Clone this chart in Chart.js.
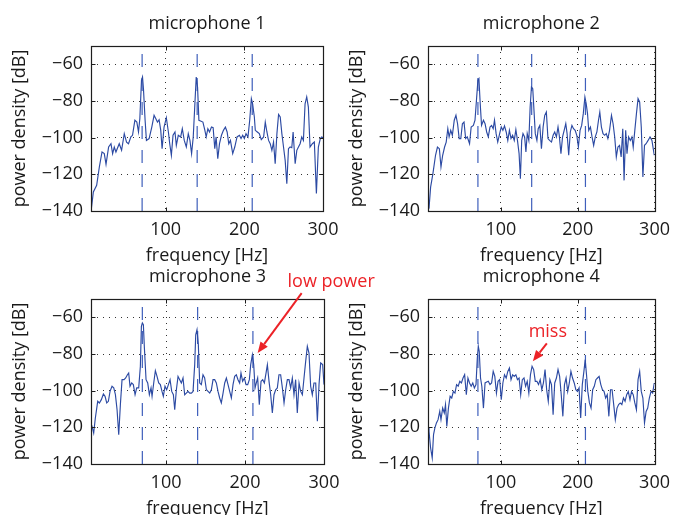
<!DOCTYPE html>
<html><head><meta charset="utf-8">
<script src="https://cdn.jsdelivr.net/npm/chart.js@4.4.1/dist/chart.umd.min.js"></script>
<style>
html,body{margin:0;padding:0;background:#fff;overflow:hidden;width:678px;height:515px;}
canvas{position:absolute;left:0;top:0;}
</style></head><body>
<canvas id="c1" width="678" height="560"></canvas>
<canvas id="c2" width="678" height="560"></canvas>
<canvas id="c3" width="678" height="560"></canvas>
<canvas id="c4" width="678" height="560"></canvas>
<script>
// ---- data ----
const titles = ['microphone 1','microphone 2','microphone 3','microphone 4'];
const xTicks = [100, 200, 300];
const yTicks = [-140, -120, -100, -80, -60];
const xRange = [5, 300];
const yRange = [-140, -50];

const f1 = [5.1,8.0,12.2,15.6,19.0,21.9,24.1,27.4,30.4,32.5,34.6,36.7,40.9,43.9,47.3,50.2,52.7,55.7,57.8,60.8,63.3,65.4,67.1,69.2,70.5,71.7,73.8,75.5,78.9,82.3,85.2,87.3,89.5,91.6,93.7,95.4,97.9,100.8,103.4,105.1,107.2,109.3,111.8,113.5,116.0,119.0,121.1,123.6,126.2,128.7,130.8,132.9,135.0,137.1,138.8,140.5,142.2,144.3,147.3,149.8,151.5,153.6,155.7,158.2,160.3,162.4,164.1,166.2,168.4,170.9,173.4,175.9,178.1,180.2,182.3,185.2,187.8,190.7,193.7,195.8,197.9,200.0,202.1,204.6,206.8,208.9,210.5,212.7,213.9,216.5,219.0,221.5,224.5,226.6,228.7,230.8,232.9,235.0,237.1,239.2,241.4,243.5,245.6,247.7,249.8,251.9,254.0,256.1,258.2,260.3,262.0,264.6,266.7,268.8,270.9,273.0,275.1,277.2,279.3,281.4,283.5,286.5,289.0,291.6,294.1,296.6,298.3,300.0];
const p1 = [-140,-129.6,-126,-116,-107.8,-108.7,-114.5,-105.1,-103.3,-108.7,-105.1,-107.8,-103.3,-106.9,-97.8,-102.4,-103.3,-99.6,-98.7,-90.5,-91.5,-96.9,-89.6,-68.7,-66.9,-73.3,-90.5,-101.5,-100.5,-94.2,-87.8,-89.6,-91.5,-90.2,-96,-106,-94.2,-89.1,-96.9,-103.3,-109.6,-98.7,-96.9,-104.2,-98.7,-99.6,-95.1,-101.5,-105.1,-97.8,-101.5,-108.7,-99.6,-81.5,-66.9,-72.4,-90.5,-90.9,-91.5,-96,-99.6,-95.1,-96.9,-94.2,-94.5,-106,-99.6,-111.5,-103.3,-98.7,-96,-94.2,-96.9,-103.3,-101.5,-108.7,-105.1,-99.6,-98.7,-100.5,-98.7,-100.5,-97.8,-99.6,-90.5,-78.7,-81.5,-88.7,-96,-96.9,-97.8,-101.1,-99.6,-91.5,-96.9,-101.5,-103.3,-106.9,-102.4,-114.2,-97.8,-87.3,-88.7,-97.8,-105.1,-112.4,-125.1,-106,-105.1,-105.5,-96.9,-114.2,-106.9,-105.1,-103.3,-99.6,-101.5,-81.5,-77.8,-83.3,-105.1,-103.3,-102.4,-130.5,-105.1,-100.5,-99.6,-100];

const f2 = [6.3,8.4,11.4,14.8,17.3,19.8,21.9,24.1,26.6,28.7,30.8,32.5,34.6,36.7,39.2,41.4,43.5,45.6,47.7,49.8,51.9,54.0,56.1,59.1,61.2,64.1,66.2,68.4,70.0,71.3,73.0,74.7,77.2,79.3,81.4,83.5,85.7,87.8,89.9,91.6,93.7,95.8,98.3,100.4,102.5,104.6,106.8,108.9,111.0,113.1,115.2,117.3,119.4,121.5,123.6,125.3,127.0,128.7,130.8,132.5,134.2,136.3,138.0,139.7,141.4,143.0,144.7,146.8,148.5,150.6,152.7,154.9,157.0,159.1,161.2,163.3,165.8,167.9,170.0,172.2,174.3,175.9,178.1,180.2,182.3,184.4,186.1,188.2,190.3,192.4,194.5,196.6,198.7,200.8,203.0,205.1,207.2,209.3,211.0,212.7,214.3,216.5,218.6,220.7,222.8,224.9,227.0,228.7,230.8,232.9,235.0,237.1,239.2,241.4,243.9,246.0,248.1,250.2,252.3,254.4,256.5,258.6,260.3,262.4,264.1,266.2,268.4,270.5,272.2,274.3,276.4,278.5,280.6,282.7,284.8,286.9,289.0,291.6,294.1,296.6,299.6];
const p2 = [-138.7,-127,-119.6,-109.6,-105.1,-106,-116,-109.6,-105.1,-102.4,-95.1,-99.6,-96,-98.7,-90.5,-87.8,-92.4,-100.5,-100.5,-92.4,-91.5,-100.5,-99.6,-103.3,-94.2,-93.3,-90.5,-77.8,-68.7,-67.8,-81.5,-93.3,-90.5,-92.4,-96.9,-99.6,-94.2,-93.3,-95.1,-90.5,-97.8,-102.4,-97.8,-94.2,-96,-93.6,-96.9,-101.5,-96,-100.5,-98.7,-101.5,-95.6,-101.5,-108.7,-122.4,-101.5,-97.8,-99.6,-107.8,-97.8,-101.5,-83.3,-72.4,-73.3,-85.1,-97.8,-101.5,-95.1,-93.3,-106,-94.2,-87.8,-86,-100.5,-101.5,-102.4,-98.7,-96.9,-99.6,-94.2,-98.7,-108.7,-99.6,-96,-92.4,-97.8,-109.6,-96.9,-93.3,-95.1,-96,-98.7,-105.1,-96,-93.3,-86.9,-77.8,-81.5,-86.9,-96,-94.2,-99.6,-104.2,-99.6,-96.9,-90.5,-86,-94.2,-97.8,-98.7,-97.8,-100.5,-96,-87.8,-92.4,-99.6,-110.5,-105.1,-104.2,-110.5,-95.1,-123.3,-96,-108.7,-99.6,-101.5,-99.6,-105.1,-96,-86.9,-78.7,-80.5,-94.2,-121.5,-104.2,-103.3,-101.5,-99.6,-101.5,-109.6];

const f3 = [5.0,6.3,8.4,10.5,13.5,15.6,18.1,20.7,22.8,24.9,27.0,29.1,31.6,33.8,35.9,38.0,40.1,42.2,44.3,46.8,48.9,51.1,52.7,54.4,56.5,58.6,60.8,62.9,65.4,67.5,68.8,70.0,71.3,72.6,74.7,76.8,78.9,81.0,82.3,84.4,86.5,88.6,90.7,92.8,94.9,96.6,98.7,100.8,103.0,105.1,107.2,109.3,111.0,113.1,115.2,117.3,119.4,121.5,123.6,125.7,127.8,130.0,132.1,134.2,136.3,137.6,139.2,140.9,142.6,144.7,146.8,148.9,151.1,153.2,155.3,157.4,159.5,161.6,163.7,165.8,167.9,170.0,172.2,174.3,176.4,178.5,180.6,182.7,184.8,186.9,189.0,191.1,193.2,194.9,197.0,199.2,201.3,203.4,205.5,207.2,209.3,211.0,212.7,214.3,216.0,218.1,220.3,222.4,224.5,226.6,228.3,230.4,232.5,234.6,236.7,238.8,240.9,243.0,245.1,247.3,249.4,251.5,253.6,255.7,257.8,259.9,262.0,264.1,266.2,268.4,270.5,272.6,274.7,276.8,278.9,281.0,283.1,285.2,287.3,289.5,291.6,293.7,295.8,298.3,300.0];
const p3 = [-120.4,-119.5,-123.1,-114.9,-105.8,-106.7,-104.9,-101.8,-103.1,-106.7,-105.8,-100.4,-97.6,-98.5,-102.2,-110.4,-124,-107.6,-94,-94,-93.1,-91.3,-90.4,-97.6,-95.8,-96.7,-102.2,-98.5,-98.5,-86.7,-64.9,-63.1,-64,-76.7,-94,-95.8,-102.2,-98.5,-103.1,-95.8,-89.1,-92.2,-95.8,-96.7,-100.4,-103.1,-97.6,-99.5,-96.7,-94,-100.4,-102.2,-110.4,-99.5,-92.2,-94,-95.8,-93.1,-102.2,-101.3,-100.4,-101.3,-101.3,-100.4,-85.8,-69.5,-66.7,-74.9,-95.8,-96.7,-91.3,-93.1,-99.5,-100.4,-101.3,-99.5,-94,-94,-95.8,-100.4,-104,-106.7,-101.3,-95.8,-93.1,-96.7,-100.4,-104,-96.7,-92.2,-91.3,-94,-95.8,-90.4,-94.9,-93.1,-96.7,-96.7,-94,-85.8,-80.4,-85.8,-98.5,-95.8,-93.1,-107.6,-94.9,-94,-95.8,-90.4,-85.8,-94.9,-102.2,-112.2,-102.2,-99.5,-98.5,-91.3,-91.3,-98.5,-106.7,-99.5,-94,-94,-98.5,-93.1,-102.2,-94,-112.2,-95.8,-100.4,-102.2,-93.1,-84,-75.8,-79.5,-97.6,-102.2,-95.8,-95.8,-116.7,-96.7,-84.9,-85.8,-96.7];

const f4 = [5.0,6.3,8.4,10.5,12.2,13.9,16.0,18.1,20.3,21.9,24.1,26.2,27.8,29.5,31.6,33.8,35.9,38.0,40.1,42.2,44.3,46.4,48.5,50.6,52.7,54.9,57.0,59.1,61.2,63.3,65.4,67.5,69.2,70.5,71.7,73.4,75.1,77.2,79.3,81.4,83.5,85.7,87.8,89.9,92.0,94.1,96.2,98.3,100.4,102.5,104.6,106.8,108.9,111.0,113.1,115.2,117.3,119.4,121.5,123.6,125.7,127.8,130.0,132.1,134.2,136.3,138.4,140.5,142.6,144.7,146.8,148.9,151.1,153.2,155.3,157.4,159.5,161.6,163.7,165.8,167.9,170.0,172.2,174.3,176.4,178.5,180.6,182.7,184.8,186.9,189.0,191.1,193.2,195.4,197.5,199.6,201.7,203.8,205.9,208.0,209.7,211.4,213.1,215.2,217.3,219.4,221.5,223.6,225.7,227.8,230.0,232.1,234.2,236.3,238.4,240.5,242.6,244.7,246.8,248.9,251.1,253.2,255.3,257.4,259.5,261.6,263.7,265.8,268.0,270.0,272.2,274.3,276.4,278.5,280.6,282.7,284.8,286.9,289.0,291.1,293.2,295.4,297.5,299.6];
const p4 = [-120.4,-122.2,-131.3,-136.7,-124,-120.4,-117.6,-115.8,-111.3,-115.8,-109.5,-112.2,-107.6,-119.5,-109.5,-103.1,-104,-100.4,-101.3,-96.7,-97.6,-94.9,-95.8,-93.1,-91.3,-102.2,-93.1,-95.8,-97.6,-95.8,-98.5,-96.7,-82.2,-75.8,-78.5,-93.1,-97.6,-109.5,-95.8,-95.3,-94.9,-96.7,-95.8,-89.5,-92.2,-101.3,-94.9,-94,-104.9,-95.8,-91.3,-93.1,-89.5,-87.6,-94,-91.3,-92.2,-91.3,-94,-93.1,-102.2,-94,-93.1,-97.6,-94.9,-101.3,-91.3,-86.7,-88.5,-94.9,-94.9,-96.7,-94,-99.5,-95.8,-88.5,-99.5,-105.8,-94,-96.7,-113.1,-95.8,-93.1,-88.5,-92.2,-102.2,-114,-96.7,-93.1,-100.4,-95.8,-89.5,-93.1,-95.8,-99.5,-100.4,-98.5,-114.9,-96.7,-89.5,-83.1,-91.3,-100.4,-106.7,-109.5,-99.5,-97.6,-94,-93.1,-92.2,-96.7,-99.5,-100.4,-104,-102.2,-114,-99.5,-99.5,-107.6,-115.8,-109.5,-107.6,-106.7,-107.6,-104,-105.8,-102.2,-100.4,-104.9,-100.4,-102.2,-106.7,-110.4,-94,-89.5,-100.4,-104,-117.6,-111.3,-109.5,-104,-100.4,-101.3,-95.8];

const peaks1 = [70, 140, 210];
const peaks2 = [70, 140, 210];
const peaks3 = [70, 140, 210];
const peaks4 = [70, 210];

const note3 = {label: 'low power', x: 216, y: -79.5};
const note4 = {label: 'miss', x: 141.5, y: -84};

// ---- styles / layout ----
const FONT = "'Open Sans', 'DejaVu Sans', sans-serif";
const TEXT = '#1a1a1a';
const LINE = '#2c4aa3';
const DASH = '#3f5fbb';
const RED = '#ec2227';
const XH = 56;       // x-axis box height
const CH = 560;      // canvas height

Chart.defaults.font.family = FONT;
Chart.defaults.font.size = 18;
Chart.defaults.color = TEXT;

const panels = [
  {id:'c1', title:titles[0], f:f1, p:p1, peaks:peaks1, area:{l:91,  r:323, t:46,  b:211}, yl:9},
  {id:'c2', title:titles[1], f:f2, p:p2, peaks:peaks2, area:{l:428, r:661, t:46,  b:211}, yl:346},
  {id:'c3', title:titles[2], f:f3, p:p3, peaks:peaks3, area:{l:91,  r:324, t:299, b:464}, yl:9,
     note:note3, noteStyle:{dx:44, dy:-60, tx:73.5, ty:-66}},
  {id:'c4', title:titles[3], f:f4, p:p4, peaks:peaks4, area:{l:428, r:661, t:299, b:464}, yl:346,
     note:note4, noteStyle:{dx:14, dy:-18, tx:15, ty:-24}}
];

const framePlugin = {
  id: 'matlabFrame',
  afterDatasetsDraw(chart, args, opts) {
    const {ctx, chartArea: a, scales: {x, y}} = chart;
    ctx.save();
    ctx.strokeStyle = '#1e1e1e'; ctx.lineWidth = 1.2; ctx.setLineDash([]);
    const L = Math.round(a.left) + 0.5, T = Math.round(a.top) + 0.5;
    const R = Math.round(a.right) + 0.5, B = Math.round(a.bottom) + 0.5;
    ctx.strokeRect(L, T, R - L, B - T);
    const tl = 4;
    ctx.lineWidth = 1;
    ctx.beginPath();
    xTicks.forEach(v => {
      const px = Math.round(x.getPixelForValue(v)) + 0.5;
      ctx.moveTo(px, B); ctx.lineTo(px, B - tl);
      ctx.moveTo(px, T); ctx.lineTo(px, T + tl);
    });
    yTicks.forEach(v => {
      const py = Math.round(y.getPixelForValue(v)) + 0.5;
      ctx.moveTo(L, py); ctx.lineTo(L + tl, py);
      ctx.moveTo(R, py); ctx.lineTo(R - tl, py);
    });
    ctx.stroke();
    ctx.fillStyle = TEXT;
    ctx.font = '18px ' + FONT;
    ctx.textAlign = 'center';
    ctx.textBaseline = 'alphabetic';
    ctx.fillText(opts.title, (a.left + a.right) / 2, a.top - 16.7);
    if (opts.note) {
      const n = opts.note, s = opts.noteStyle;
      const tx = x.getPixelForValue(n.x), ty = y.getPixelForValue(n.y);
      const sx = tx + s.dx, sy = ty + s.dy;
      const ang = Math.atan2(ty - sy, tx - sx);
      const hl = 11, hw = 4.5;
      const bx = tx - hl * Math.cos(ang), by = ty - hl * Math.sin(ang);
      ctx.strokeStyle = RED; ctx.fillStyle = RED; ctx.lineWidth = 2;
      ctx.beginPath(); ctx.moveTo(sx, sy); ctx.lineTo(bx, by); ctx.stroke();
      ctx.beginPath();
      ctx.moveTo(tx, ty);
      ctx.lineTo(bx + hw * Math.sin(ang), by - hw * Math.cos(ang));
      ctx.lineTo(bx - hw * Math.sin(ang), by + hw * Math.cos(ang));
      ctx.closePath(); ctx.fill();
      ctx.font = '18px ' + FONT;
      ctx.textAlign = 'center';
      ctx.fillText(n.label, tx + s.tx, ty + s.ty);
    }
    ctx.restore();
  }
};

const fmtY = v => (v < 0 ? '\u2212' + Math.abs(v) : String(v));

panels.forEach(P => {
  const curve = P.f.map((fv, i) => ({x: fv, y: P.p[i]}));
  const datasets = [{
    data: curve, borderColor: LINE, borderWidth: 1.15, pointRadius: 0, tension: 0, fill: false
  }];
  P.peaks.forEach(fq => {
    datasets.push({
      data: [{x: fq, y: yRange[0]}, {x: fq, y: yRange[1]}],
      borderColor: DASH, borderWidth: 1.2, borderDash: [13, 11], pointRadius: 0, fill: false
    });
  });
  new Chart(document.getElementById(P.id), {
    type: 'line',
    data: {datasets},
    options: {
      responsive: false, animation: false, devicePixelRatio: 1,
      layout: {padding: {left: P.yl, top: P.area.t, right: 678 - P.area.r, bottom: CH - P.area.b - XH}},
      plugins: {
        legend: {display: false}, tooltip: {enabled: false}, title: {display: false},
        matlabFrame: {title: P.title, note: P.note || null, noteStyle: P.noteStyle || null}
      },
      scales: {
        x: {
          type: 'linear', min: xRange[0], max: xRange[1],
          afterBuildTicks: s => { s.ticks = xTicks.map(v => ({value: v})); },
          afterFit: s => { s.height = XH; },
          ticks: {padding: 8, maxRotation: 0, autoSkip: false, color: TEXT, font: {size: 18}},
          grid: {drawTicks: false, color: '#333', lineWidth: 1},
          border: {display: false, dash: [1, 5]},
          title: {display: true, text: 'frequency [Hz]', padding: 0, color: TEXT, font: {size: 18}}
        },
        y: {
          type: 'linear', min: yRange[0], max: yRange[1],
          afterBuildTicks: s => { s.ticks = yTicks.map(v => ({value: v})); },
          afterFit: s => { s.width = P.area.l - P.yl; },
          ticks: {padding: 8, color: TEXT, font: {size: 18}, callback: fmtY},
          grid: {drawTicks: false, color: '#333', lineWidth: 1},
          border: {display: false, dash: [1, 5]},
          title: {display: true, text: 'power density [dB]', padding: 0, color: TEXT, font: {size: 18}}
        }
      }
    },
    plugins: [framePlugin]
  });
});
</script>
</body></html>
